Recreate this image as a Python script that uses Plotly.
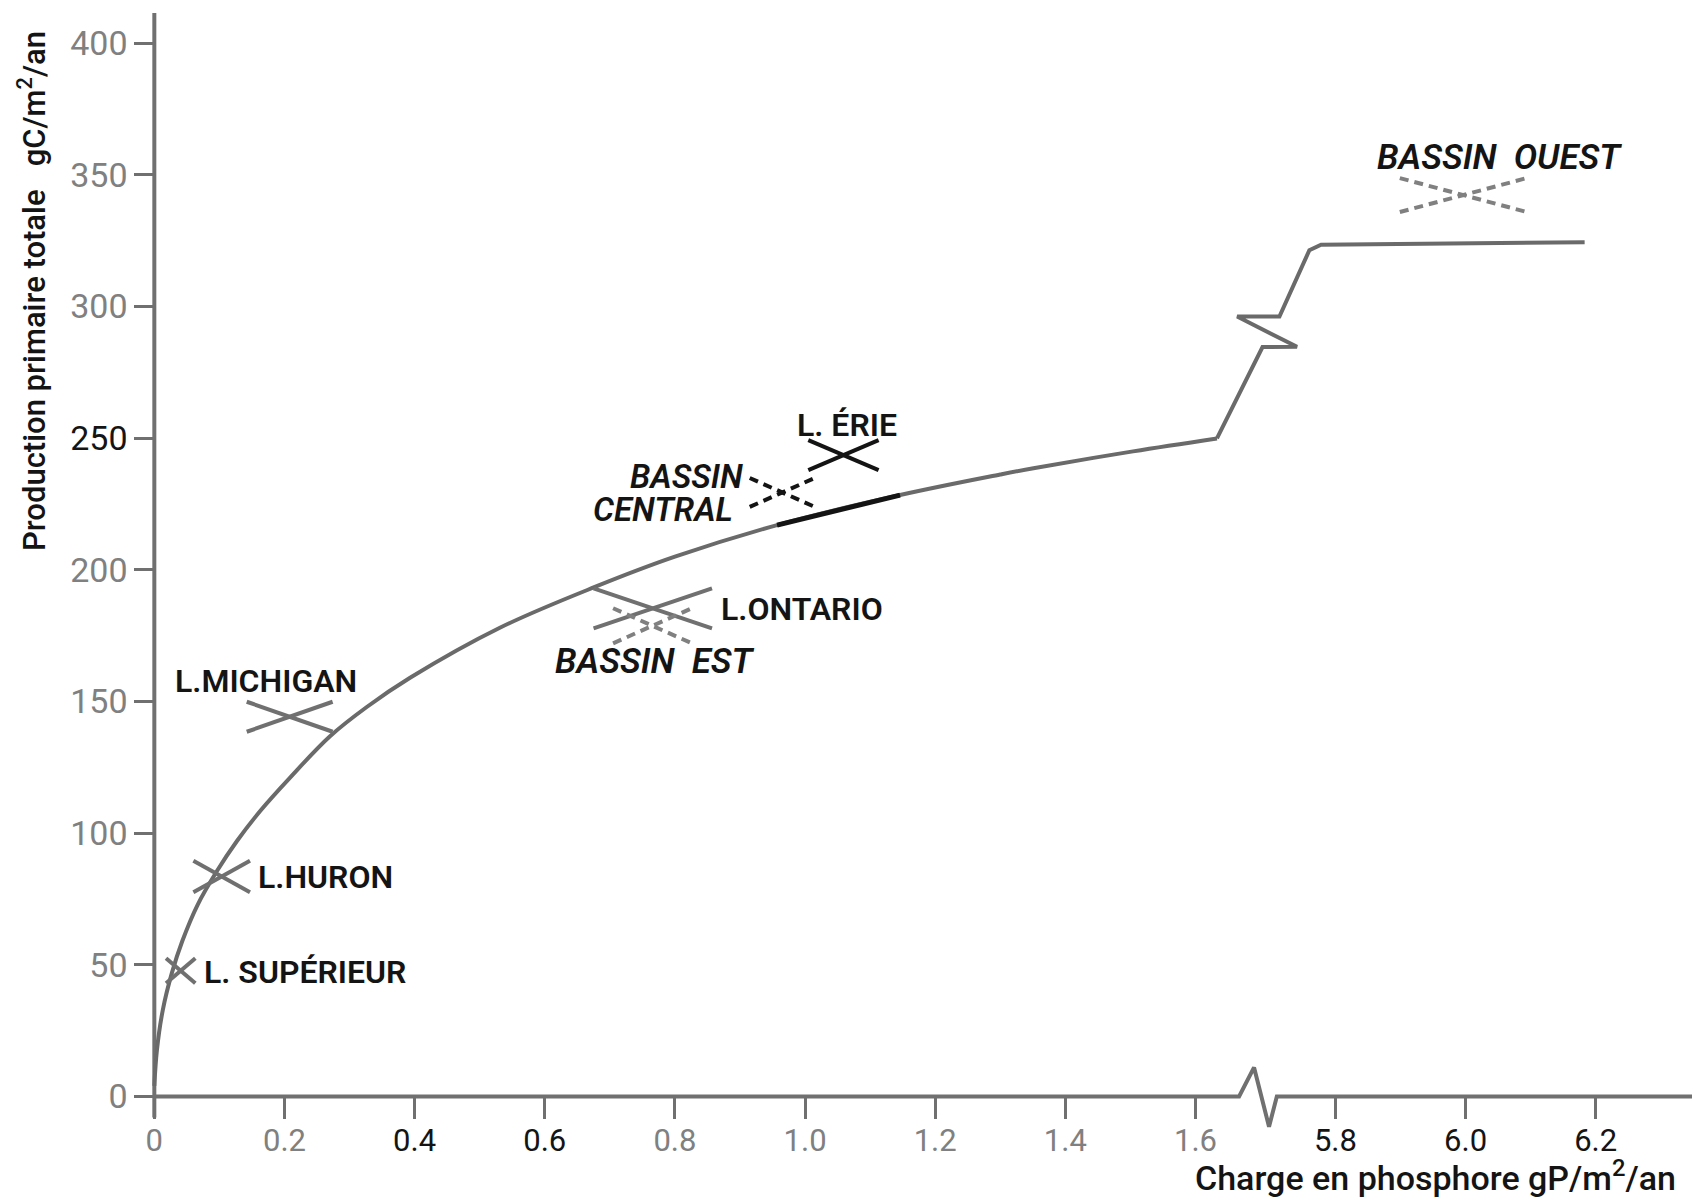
import plotly.graph_objects as go

# ---------------- data ----------------
# main curve, left part of the broken axis  (x: gP/m2/an, y: gC/m2/an)
CURVE_X = [0.0, 0.004, 0.013, 0.027, 0.043, 0.066, 0.096, 0.127, 0.163, 0.209,
           0.270, 0.327, 0.393, 0.531, 0.677, 0.800, 0.957, 1.146, 1.300, 1.351,
           1.504, 1.633]
CURVE_Y = [4.0, 17.6, 32.8, 46.9, 59.0, 72.5, 85.5, 97.0, 108.5, 121.2,
           136.8, 148.0, 159.0, 178.0, 193.5, 205.0, 217.0, 228.4, 236.2, 238.6,
           245.0, 249.9]
# portion of the curve drawn in black (range of the central basin)
HIGHLIGHT_RANGE = [0.957, 1.146]

# curve crossing the axis break (drawn in axis-position units)
BREAK_CURVE_X = [1.633, 1.703, 1.756, 1.664, 1.729]
BREAK_CURVE_Y = [249.9, 284.6, 284.7, 296.2, 296.2]
# plateau on the right part of the broken axis (real x values)
PLATEAU_X = [5.760, 5.778, 6.183]
PLATEAU_Y = [321.4, 323.5, 324.4]

# lakes: ranges of phosphorus loading and production (drawn as X crosses)
LAKE_NAMES = ["L. SUPÉRIEUR", "L.HURON", "L.MICHIGAN", "L.ONTARIO", "L. ÉRIE"]
LAKE_P_LOW = [0.018, 0.060, 0.142, 0.675, 1.005]
LAKE_P_HIGH = [0.063, 0.147, 0.274, 0.857, 1.113]
LAKE_PROD_LOW = [43.0, 77.5, 138.5, 177.8, 237.9]
LAKE_PROD_HIGH = [52.5, 89.5, 149.9, 193.0, 249.3]

# Lake Erie basins (dashed crosses)
BASIN_NAMES = ["BASSIN CENTRAL", "BASSIN EST", "BASSIN OUEST"]
BASIN_P_LOW = [0.915, 0.705, 5.899]
BASIN_P_HIGH = [1.015, 0.826, 6.094]
BASIN_PROD_LOW = [223.9, 172.1, 335.9]
BASIN_PROD_HIGH = [234.9, 185.4, 348.8]

X_TICK_VALUES = [0, 0.2, 0.4, 0.6, 0.8, 1.0, 1.2, 1.4, 1.6, 5.8, 6.0, 6.2]
X_TICK_LABELS = ["0", "0.2", "0.4", "0.6", "0.8", "1.0", "1.2", "1.4", "1.6",
                 "5.8", "6.0", "6.2"]
Y_TICK_VALUES = [0, 50, 100, 150, 200, 250, 300, 350, 400]
Y_TICK_LABELS = ["0", "50", "100", "150", "200", "250", "300", "350", "400"]

# ---------------- broken x axis ----------------
BREAK_OFFSET = 3.985


def axis_pos(x):
    return x - BREAK_OFFSET if x > 3 else x


# axis-line decoration (zigzag break), in axis-position units
AXIS_LINE_X = [0.0, 1.667, 1.690, 1.713, 1.725, 2.6]
AXIS_LINE_Y = [0, 0, 11, -11.5, 0, 0]

# ---------------- styles ----------------
GRAY = "#707070"
LIGHT = "#808080"
BLACK = "#141414"
W, H = 1692, 1199
ML, MR, MT, MB = 135, 0, 13, 66
XR = [-0.0297, 2.363]
YR = [-13.9, 411.5]
PW, PH = W - ML - MR, H - MT - MB


def paper_x(px):   # page pixel -> paper fraction
    return (px - ML) / PW


def paper_y(py):
    return (H - MB - py) / PH


fig = go.Figure()

# axes drawn as lines
fig.add_trace(go.Scatter(x=AXIS_LINE_X, y=AXIS_LINE_Y, mode="lines",
                         line=dict(color=GRAY, width=4), hoverinfo="skip"))
fig.add_trace(go.Scatter(x=[0, 0], y=[-8, YR[1]], mode="lines",
                         line=dict(color=GRAY, width=4), hoverinfo="skip"))

# main curve
fig.add_trace(go.Scatter(x=CURVE_X, y=CURVE_Y, mode="lines",
                         line=dict(color="#6a6a6a", width=4, shape="spline",
                                   smoothing=1.0), hoverinfo="skip"))
hx = [x for x in CURVE_X if HIGHLIGHT_RANGE[0] <= x <= HIGHLIGHT_RANGE[1]]
hy = [y for x, y in zip(CURVE_X, CURVE_Y) if HIGHLIGHT_RANGE[0] <= x <= HIGHLIGHT_RANGE[1]]
fig.add_trace(go.Scatter(x=hx, y=hy, mode="lines",
                         line=dict(color=BLACK, width=5), hoverinfo="skip"))
# break + plateau
fig.add_trace(go.Scatter(x=BREAK_CURVE_X + [axis_pos(v) for v in PLATEAU_X],
                         y=BREAK_CURVE_Y + PLATEAU_Y, mode="lines",
                         line=dict(color="#6a6a6a", width=4), hoverinfo="skip"))


def cross(xl, xh, yl, yh):
    xl, xh = axis_pos(xl), axis_pos(xh)
    return [xl, xh, None, xl, xh], [yl, yh, None, yh, yl]


for i, name in enumerate(LAKE_NAMES):
    cx, cy = cross(LAKE_P_LOW[i], LAKE_P_HIGH[i], LAKE_PROD_LOW[i], LAKE_PROD_HIGH[i])
    col = BLACK if name == "L. ÉRIE" else GRAY
    fig.add_trace(go.Scatter(x=cx, y=cy, mode="lines", name=name,
                             line=dict(color=col, width=4), hoverinfo="skip"))

for i, name in enumerate(BASIN_NAMES):
    cx, cy = cross(BASIN_P_LOW[i], BASIN_P_HIGH[i], BASIN_PROD_LOW[i], BASIN_PROD_HIGH[i])
    col = BLACK if name == "BASSIN CENTRAL" else "#808080"
    fig.add_trace(go.Scatter(x=cx, y=cy, mode="lines", name=name,
                             line=dict(color=col, width=4, dash="9px,6px"),
                             hoverinfo="skip"))

# tick labels (some printed darker in the original)
dark_x = {"0.4", "0.6", "5.8", "6.0", "6.2"}
xt_text = [f'<span style="color:{BLACK}">{t}</span>' if t in dark_x else t
           for t in X_TICK_LABELS]
yt_text = [f'<span style="color:{BLACK}">{t}</span>' if t == "250" else t
           for t in Y_TICK_LABELS]

LABEL_FONT = dict(family="Roboto", size=32, color=BLACK, weight=600)
# text, x, y, anchor, italic, size
labels = [
    ("L.MICHIGAN", 0.028, 157.8, "left", False, 32),
    ("L.HURON", 0.157, 83.4, "left", False, 32),
    ("L. SUPÉRIEUR", 0.073, 47.4, "left", False, 32),
    ("L.ONTARIO", 0.867, 185.0, "left", False, 32),
    ("BASSIN&nbsp; EST", 0.613, 165.1, "left", True, 35),
    ("L. ÉRIE", 0.985, 255.0, "left", False, 32),
    ("BASSIN", 0.908, 235.5, "right", True, 33),
    ("CENTRAL", 0.892, 222.8, "right", True, 33),
    ("BASSIN&nbsp; OUEST", axis_pos(5.861), 356.8, "left", True, 35),
]
annotations = []
for text, x, y, xa, it, sz in labels:
    annotations.append(dict(
        x=x, y=y, xref="x", yref="y", text=f"<i>{text}</i>" if it else text,
        showarrow=False, xanchor=xa, yanchor="middle",
        font=dict(LABEL_FONT, size=sz)))

# axis titles (page-pixel positions converted to paper fractions)
annotations.append(dict(
    x=paper_x(32), y=paper_y(291), xref="paper", yref="paper", textangle=-90,
    text="Production primaire totale&nbsp;&nbsp; gC/m<sup>2</sup>/an",
    showarrow=False, xanchor="center", yanchor="middle",
    font=dict(family="Roboto", size=31, color=BLACK, weight=500)))
annotations.append(dict(
    x=paper_x(1678), y=paper_y(1176), xref="paper", yref="paper",
    text="Charge en phosphore gP/m<sup>2</sup>/an",
    showarrow=False, xanchor="right", yanchor="middle",
    font=dict(family="Roboto", size=34, color=BLACK, weight=500)))

fig.update_layout(
    width=W, height=H,
    margin=dict(l=ML, r=MR, t=MT, b=MB),
    paper_bgcolor="white", plot_bgcolor="white",
    showlegend=False,
    annotations=annotations,
    xaxis=dict(range=XR, showgrid=False, zeroline=False, showline=False,
               anchor="free", position=(0 - YR[0]) / (YR[1] - YR[0]),
               tickmode="array",
               tickvals=[axis_pos(v) for v in X_TICK_VALUES], ticktext=xt_text,
               ticks="outside", ticklen=22, tickwidth=3, tickcolor=GRAY,
               ticklabelstandoff=-6,
               tickfont=dict(family="Roboto", size=31, color=LIGHT)),
    yaxis=dict(range=YR, showgrid=False, zeroline=False, showline=False,
               anchor="free", position=(0 - XR[0]) / (XR[1] - XR[0]),
               tickmode="array", tickvals=Y_TICK_VALUES, ticktext=yt_text,
               ticks="outside", ticklen=20, tickwidth=3, tickcolor=GRAY,
               tickfont=dict(family="Roboto", size=34, color=LIGHT)),
)

fig.write_html("out.html",
               config={"displayModeBar": False},
               post_script="document.body.style.margin='0';"
                           "document.body.style.overflow='hidden';")
